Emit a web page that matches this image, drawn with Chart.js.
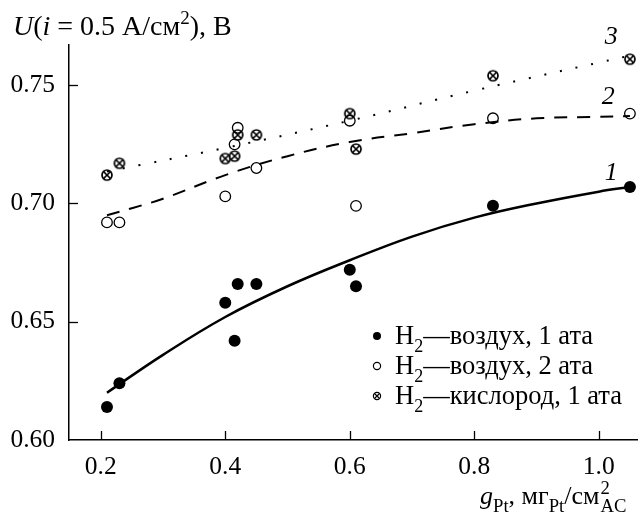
<!DOCTYPE html>
<html>
<head>
<meta charset="utf-8">
<script src="https://cdn.jsdelivr.net/npm/chart.js@4/dist/chart.umd.min.js"></script>
<style>
  html, body { margin: 0; padding: 0; background: #fff; }
  #wrap { width: 644px; height: 516px; }
</style>
</head>
<body>
<div id="wrap"><canvas id="c" width="644" height="516"></canvas></div>
<script>
// ---- data ----
const xTicks = [0.2, 0.4, 0.6, 0.8, 1.0];
const yTicks = [0.60, 0.65, 0.70, 0.75];

const gPt = [0.21, 0.23, 0.40, 0.415, 0.42, 0.45, 0.60, 0.61, 0.83, 1.05];
const airOneX = gPt;
const airOneY = [0.614, 0.624, 0.658, 0.642, 0.666, 0.666, 0.672, 0.665, 0.699, 0.707];
const airTwoX = gPt;
const airTwoY = [0.692, 0.692, 0.703, 0.725, 0.732, 0.715, 0.735, 0.699, 0.736, 0.738];
const oxyX = gPt;
const oxyY = [0.712, 0.717, 0.719, 0.720, 0.729, 0.729, 0.738, 0.723, 0.754, 0.761];

// fitted curves
const fit1X = [0.21, 0.3, 0.4, 0.5, 0.6, 0.7, 0.8, 0.9, 1.0, 1.05];
const fit1Y = [0.620, 0.636, 0.652, 0.665, 0.676, 0.686, 0.694, 0.700, 0.705, 0.707];
const fit2X = [0.21, 0.25, 0.3, 0.4, 0.5, 0.6, 0.7, 0.8, 0.9, 1.0, 1.05];
const fit2Y = [0.695, 0.698, 0.702, 0.712, 0.720, 0.726, 0.7297, 0.7335, 0.736, 0.7366, 0.737];
const fit3X = [0.21, 0.4, 0.6, 0.8, 1.05];
const fit3Y = [0.7135, 0.7235, 0.735, 0.7477, 0.7625];

// curve numbers: label, x, y (data units)
const curveLabels = ['1', '2', '3'];
const curveLabelX = [1.02, 1.015, 1.02];
const curveLabelY = [0.7127, 0.7449, 0.7705];

const legendLabels = [
  [['H', 'n'], ['2', 'sub'], ['\u2014воздух, 1 ата', 'n']],
  [['H', 'n'], ['2', 'sub'], ['\u2014воздух, 2 ата', 'n']],
  [['H', 'n'], ['2', 'sub'], ['\u2014кислород, 1 ата', 'n']]
];

const FONT = '"Liberation Serif", "Times New Roman", serif';
const pts = (xs, ys) => xs.map((x, i) => ({ x: x, y: ys[i] }));

function crossCircle(r, lw) {
  const s = 2 * Math.ceil(r + 2);
  const cv = document.createElement('canvas');
  cv.width = s; cv.height = s;
  const c = cv.getContext('2d');
  const m = s / 2;
  c.strokeStyle = '#000'; c.lineWidth = lw; c.fillStyle = '#fff';
  c.beginPath(); c.arc(m, m, r, 0, Math.PI * 2); c.fill(); c.stroke();
  const d = r * 0.7;
  c.beginPath();
  c.moveTo(m - d, m - d); c.lineTo(m + d, m + d);
  c.moveTo(m - d, m + d); c.lineTo(m + d, m - d);
  c.stroke();
  return cv;
}
const crossImg = crossCircle(5, 1.7);

function drawRich(ctx, parts, x, y, size, subScale) {
  const ss = subScale || 0.68;
  let cx = x;
  for (const [t, st] of parts) {
    let f = size, dy = 0, style = '';
    if (st === 'i') style = 'italic ';
    if (st === 'sub') { f = size * ss; dy = size * 0.3; }
    if (st === 'sup') { f = size * ss; dy = -size * 0.38; }
    ctx.font = style + f + 'px ' + FONT;
    ctx.fillText(t, cx, y + dy);
    cx += ctx.measureText(t).width;
  }
  return cx;
}

const decorPlugin = {
  id: 'decor',
  afterDraw(chart) {
    const ctx = chart.ctx;
    const xs = chart.scales.x, ys = chart.scales.y;
    const a = chart.chartArea;
    ctx.save();
    ctx.strokeStyle = '#000';
    ctx.lineWidth = 1.3;
    // inward ticks
    xTicks.forEach(v => {
      const px = Math.round(xs.getPixelForValue(v)) + 0.5;
      ctx.beginPath(); ctx.moveTo(px, a.bottom); ctx.lineTo(px, a.bottom - 9); ctx.stroke();
    });
    yTicks.forEach(v => {
      if (v === ys.min) return;
      const py = Math.round(ys.getPixelForValue(v)) + 0.5;
      ctx.beginPath(); ctx.moveTo(a.left, py); ctx.lineTo(a.left + 9, py); ctx.stroke();
    });
    ctx.fillStyle = '#000';
    ctx.textBaseline = 'alphabetic';
    ctx.textAlign = 'left';
    // y title
    drawRich(ctx, [['U', 'i'], ['(', 'n'], ['i', 'i'], [' = 0.5 А/см', 'n'], ['2', 'sup'], ['), В', 'n']], 13, 35, 28);
    // x title
    const xs0 = 26;
    let cx = drawRich(ctx, [['g', 'i'], ['Pt', 'sub'], [', мг', 'n'], ['Pt', 'sub'], ['/см', 'n']], 480, 504, xs0, 0.72);
    ctx.font = (xs0 * 0.72) + 'px ' + FONT;
    ctx.fillText('2', cx + 1, 504 - xs0 * 0.4);
    ctx.fillText('AC', cx + 1, 504 + xs0 * 0.3);
    // curve numbers
    ctx.font = 'italic 26px ' + FONT;
    ctx.textAlign = 'center';
    ctx.textBaseline = 'middle';
    curveLabels.forEach((t, i) => {
      ctx.fillText(t, xs.getPixelForValue(curveLabelX[i]), ys.getPixelForValue(curveLabelY[i]));
    });
    // legend
    ctx.textAlign = 'left';
    ctx.textBaseline = 'alphabetic';
    const lx = 377, ly0 = 336, dy = 30;
    legendLabels.forEach((parts, i) => {
      const my = ly0 + i * dy;
      ctx.lineWidth = 1.2;
      if (i === 0) {
        ctx.beginPath(); ctx.arc(lx, my, 4, 0, Math.PI * 2); ctx.fill();
      } else if (i === 1) {
        ctx.beginPath(); ctx.arc(lx, my, 3.6, 0, Math.PI * 2); ctx.stroke();
      } else {
        ctx.beginPath(); ctx.arc(lx, my, 3.6, 0, Math.PI * 2); ctx.stroke();
        const d = 2.5;
        ctx.beginPath();
        ctx.moveTo(lx - d, my - d); ctx.lineTo(lx + d, my + d);
        ctx.moveTo(lx - d, my + d); ctx.lineTo(lx + d, my - d);
        ctx.stroke();
      }
      drawRich(ctx, parts, 395, my + 8, 26.5);
    });
    ctx.restore();
  }
};

const tickFont = { family: FONT, size: 25.5 };

new Chart(document.getElementById('c'), {
  type: 'scatter',
  data: {
    datasets: [
      { type: 'line', data: pts(fit1X, fit1Y), borderColor: '#000', borderWidth: 2.5,
        pointRadius: 0, tension: 0.4, fill: false },
      { type: 'line', data: pts(fit2X, fit2Y), borderColor: '#000', borderWidth: 2,
        borderDash: [13, 10], pointRadius: 0, tension: 0.4, fill: false },
      { type: 'line', data: pts(fit3X, fit3Y), borderColor: '#000', borderWidth: 2,
        borderDash: [2, 14], pointRadius: 0, tension: 0.4, fill: false },
      { data: pts(airOneX, airOneY), pointStyle: 'circle', pointRadius: 6,
        backgroundColor: '#000', borderColor: '#000', borderWidth: 0 },
      { data: pts(airTwoX, airTwoY), pointStyle: 'circle', pointRadius: 5.3,
        backgroundColor: 'rgba(255,255,255,0)', borderColor: '#000', borderWidth: 1.3 },
      { data: pts(oxyX, oxyY), pointStyle: crossImg, pointRadius: 5 }
    ]
  },
  options: {
    responsive: false,
    animation: false,
    events: [],
    layout: { padding: { top: 45, left: 0, right: 0, bottom: 0 } },
    plugins: { legend: { display: false }, tooltip: { enabled: false } },
    scales: {
      x: {
        type: 'linear', min: 0.149, max: 1.062,
        afterBuildTicks: s => { s.ticks = xTicks.map(v => ({ value: v })); },
        afterFit: s => { s.height = 76; },
        ticks: { font: tickFont, color: '#000', padding: 12, maxRotation: 0,
                 callback: v => v.toFixed(1) },
        grid: { display: false, drawTicks: false },
        border: { display: true, color: '#000', width: 1.5 }
      },
      y: {
        type: 'linear', min: 0.60, max: 0.767,
        afterBuildTicks: s => { s.ticks = yTicks.map(v => ({ value: v })); },
        afterFit: s => { s.width = 69; },
        ticks: { font: tickFont, color: '#000', padding: 14,
                 callback: v => v.toFixed(2) },
        grid: { display: false, drawTicks: false },
        border: { display: true, color: '#000', width: 1.5 }
      }
    }
  },
  plugins: [decorPlugin]
});
</script>
</body>
</html>
